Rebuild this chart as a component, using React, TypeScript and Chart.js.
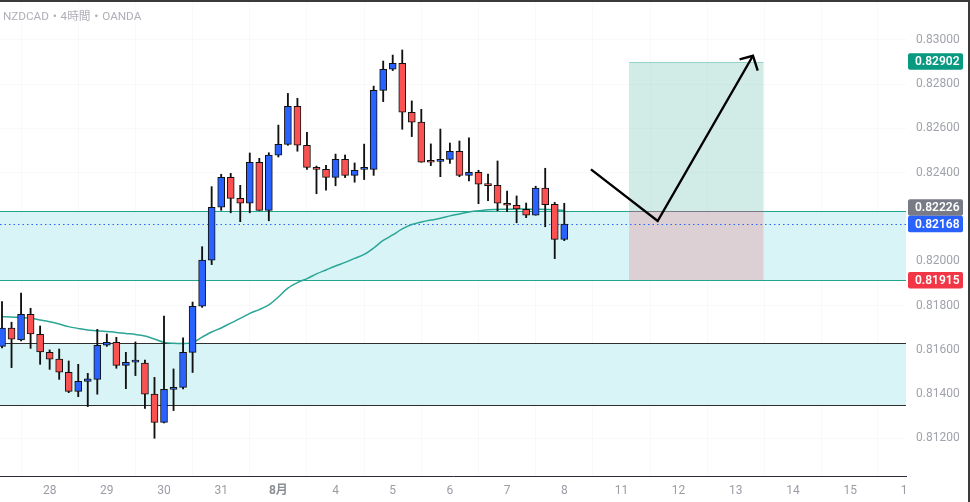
import { useEffect, useRef } from "react";
import { Chart, registerables } from "chart.js";

Chart.register(...registerables);

const TITLE = "NZDCAD・4時間・OANDA";
const FONT = "Roboto, 'Noto Sans CJK JP', sans-serif";

// 4H candles, index 0 .. 59 (Jul 25 → Aug 8)
const OPEN = [
  0.81616, 0.81698, 0.81645, 0.81761, 0.8167, 0.81589, 0.81558, 0.81499, 0.81413, 0.81458,
  0.81467, 0.81621, 0.81634, 0.8153, 0.81545, 0.8154, 0.814, 0.81273, 0.81422, 0.81431,
  0.81589, 0.81797, 0.82005, 0.82244, 0.82379, 0.82284, 0.82262, 0.82447, 0.8223, 0.82479,
  0.82528, 0.827, 0.82524, 0.82424, 0.82415, 0.82379, 0.8246, 0.82388, 0.82415, 0.82415,
  0.82772, 0.82867, 0.82894, 0.82673, 0.82628, 0.82451, 0.82451, 0.8246, 0.82497, 0.82388,
  0.82402, 0.82347, 0.82343, 0.82262, 0.82253, 0.82235, 0.82208, 0.8233, 0.82257, 0.82099,
];
const HIGH = [
  0.81818, 0.81725, 0.81856, 0.81788, 0.81708, 0.816, 0.81604, 0.8155, 0.81535, 0.81494,
  0.81693, 0.81672, 0.81657, 0.81589, 0.81636, 0.81554, 0.81476, 0.81753, 0.81514, 0.81654,
  0.81816, 0.82066, 0.82337, 0.82393, 0.82397, 0.82343, 0.82489, 0.82465, 0.8249, 0.82615,
  0.82758, 0.82736, 0.82582, 0.8243, 0.82433, 0.82484, 0.8248, 0.82444, 0.82529, 0.82791,
  0.82904, 0.82931, 0.82954, 0.82724, 0.82686, 0.8253, 0.82597, 0.82534, 0.82543, 0.82557,
  0.82411, 0.82394, 0.82453, 0.82317, 0.82295, 0.82263, 0.82339, 0.8242, 0.82266, 0.82262,
];
const LOW = [
  0.81609, 0.8152, 0.8164, 0.81607, 0.81535, 0.81512, 0.81467, 0.81407, 0.81389, 0.81344,
  0.814, 0.81616, 0.81517, 0.81425, 0.81484, 0.81336, 0.81201, 0.8127, 0.81326, 0.81424,
  0.81498, 0.81792, 0.81985, 0.8223, 0.82219, 0.82179, 0.82219, 0.8223, 0.82183, 0.82471,
  0.82524, 0.82497, 0.82415, 0.82305, 0.82321, 0.82341, 0.82378, 0.82357, 0.82369, 0.82388,
  0.82721, 0.82861, 0.82596, 0.82563, 0.82447, 0.82432, 0.82382, 0.82442, 0.82382, 0.82363,
  0.8226, 0.82274, 0.82228, 0.82224, 0.82174, 0.82197, 0.82208, 0.82156, 0.82012, 0.82093,
];
const CLOSE = [
  0.81698, 0.81648, 0.81761, 0.81672, 0.81591, 0.81558, 0.81499, 0.81413, 0.81458, 0.81469,
  0.81621, 0.81634, 0.8153, 0.81544, 0.81546, 0.814, 0.81273, 0.81422, 0.81431, 0.81589,
  0.81797, 0.82005, 0.82244, 0.82379, 0.82284, 0.82262, 0.82447, 0.8223, 0.82479, 0.82528,
  0.827, 0.82524, 0.82424, 0.82415, 0.82379, 0.8246, 0.82388, 0.82411, 0.82416, 0.82772,
  0.82867, 0.82894, 0.82673, 0.82628, 0.82447, 0.82447, 0.8246, 0.82497, 0.82388, 0.82402,
  0.82348, 0.82342, 0.82262, 0.82253, 0.82237, 0.82208, 0.8233, 0.82256, 0.82099, 0.82168,
];
// moving average line
const MA = [
  0.8175, 0.81749, 0.81746, 0.81744, 0.81735, 0.81727, 0.81717, 0.81705, 0.81697, 0.8169,
  0.81687, 0.81683, 0.81679, 0.81674, 0.8167, 0.81663, 0.81649, 0.81634, 0.8163, 0.81629,
  0.81633, 0.81658, 0.81681, 0.81699, 0.81721, 0.81742, 0.81765, 0.81782, 0.81803, 0.81839,
  0.81879, 0.81904, 0.81922, 0.81943, 0.81961, 0.81979, 0.81995, 0.82013, 0.82031, 0.8206,
  0.82094, 0.82119, 0.82146, 0.82166, 0.82177, 0.82186, 0.82194, 0.82205, 0.82214, 0.82223,
  0.82228, 0.82233, 0.82234, 0.82235, 0.82236, 0.82236, 0.82235, 0.82234, 0.82233, 0.82229,
];

const DAY_TICKS = [5, 11, 17, 23, 29, 35, 41, 47, 53, 59, 65, 71, 77, 83, 89, 94.65];
const DAY_LABELS = ["28", "29", "30", "31", "8月", "4", "5", "6", "7", "8", "11", "12", "13", "14", "15", "1"];
const MONTH_TICK = 29;
const Y_TICKS = [0.812, 0.814, 0.816, 0.818, 0.82, 0.822, 0.824, 0.826, 0.828, 0.83];
const HIDDEN_Y_TICK = 0.822;

const X_MIN = -0.21;
const X_MAX = 94.86;
const Y_MIN = 0.810307;
const Y_MAX = 0.8317065;

const UPPER_ZONE = [0.81915, 0.82226];
const LOWER_ZONE = [0.8135, 0.8163];
const LAST_PRICE = 0.82168;
const TARGET = 0.82902;
const ENTRY = 0.82226;
const STOP = 0.81915;
const POSITION_X = [65.8, 79.9];
const ARROW_X = [61.8, 68.8, 78.8];
const ARROW_Y = [0.82415, 0.82182, 0.82928];
const ARROW_HEAD_X = [77.4, 79.3];
const ARROW_HEAD_Y = [0.82912, 0.82861];

const PRICE_TAGS = [
  { value: TARGET, color: "#089981" },
  { value: ENTRY, color: "#787b86" },
  { value: LAST_PRICE, color: "#2962ff" },
  { value: STOP, color: "#f23645" },
];

const UP = "#2962ff";
const DOWN = "#fa5252";
const ZONE_FILL = "#d8f4f6";
const TEAL = "#22a58e";

const overlayPlugin = {
  id: "overlay",
  beforeDatasetsDraw(chart: any) {
    const { ctx, chartArea: a, scales } = chart;
    const x = scales.x;
    const y = scales.y;
    const W = a.right - a.left;
    ctx.save();
    ctx.beginPath();
    ctx.rect(a.left, a.top, W, a.bottom - a.top);
    ctx.clip();

    const drawZone = (z: number[], lineColor: string) => {
      const y1 = Math.round(y.getPixelForValue(z[1]));
      const y0 = Math.round(y.getPixelForValue(z[0]));
      ctx.fillStyle = ZONE_FILL;
      ctx.fillRect(a.left, y1, W, y0 - y1);
      ctx.strokeStyle = lineColor;
      ctx.lineWidth = 1;
      ctx.beginPath();
      ctx.moveTo(a.left, y1 + 0.5);
      ctx.lineTo(a.right, y1 + 0.5);
      ctx.moveTo(a.left, y0 + 0.5);
      ctx.lineTo(a.right, y0 + 0.5);
      ctx.stroke();
    };
    drawZone(LOWER_ZONE, "#2e2e2e");
    drawZone(UPPER_ZONE, TEAL);

    const px0 = x.getPixelForValue(POSITION_X[0]);
    const px1 = x.getPixelForValue(POSITION_X[1]);
    const yT = Math.round(y.getPixelForValue(TARGET));
    const yE = Math.round(y.getPixelForValue(ENTRY));
    const yS = Math.round(y.getPixelForValue(STOP));
    ctx.fillStyle = "rgba(8,153,129,0.19)";
    ctx.fillRect(px0, yT, px1 - px0, yE - yT);
    ctx.fillStyle = "rgba(242,54,69,0.19)";
    ctx.fillRect(px0, yE, px1 - px0, yS - yE);
    ctx.strokeStyle = "rgba(8,153,129,0.3)";
    ctx.beginPath();
    ctx.moveTo(px0, yT + 0.5);
    ctx.lineTo(px1, yT + 0.5);
    ctx.stroke();
    ctx.strokeStyle = "#787b86";
    ctx.beginPath();
    ctx.moveTo(px0, yE + 0.5);
    ctx.lineTo(px1, yE + 0.5);
    ctx.stroke();

    const yL = Math.round(y.getPixelForValue(LAST_PRICE)) + 0.5;
    ctx.strokeStyle = "#2962ff";
    ctx.setLineDash([1.5, 3]);
    ctx.beginPath();
    ctx.moveTo(a.left, yL);
    ctx.lineTo(a.right, yL);
    ctx.stroke();
    ctx.setLineDash([]);
    ctx.restore();
  },
  afterDatasetsDraw(chart: any) {
    const { ctx, scales } = chart;
    const x = scales.x;
    const y = scales.y;
    ctx.save();
    ctx.strokeStyle = "#000";
    ctx.lineWidth = 2.4;
    ctx.lineJoin = "miter";
    ctx.lineCap = "butt";
    ctx.beginPath();
    ARROW_X.forEach((v, i) => {
      const px = x.getPixelForValue(v);
      const py = y.getPixelForValue(ARROW_Y[i]);
      if (i === 0) ctx.moveTo(px, py);
      else ctx.lineTo(px, py);
    });
    ctx.stroke();
    const tx = x.getPixelForValue(ARROW_X[2]);
    const ty = y.getPixelForValue(ARROW_Y[2]);
    ctx.beginPath();
    ctx.moveTo(x.getPixelForValue(ARROW_HEAD_X[0]), y.getPixelForValue(ARROW_HEAD_Y[0]));
    ctx.lineTo(tx, ty);
    ctx.lineTo(x.getPixelForValue(ARROW_HEAD_X[1]), y.getPixelForValue(ARROW_HEAD_Y[1]));
    ctx.stroke();
    ctx.restore();
  },
  afterDraw(chart: any) {
    const { ctx, chartArea: a, scales, width, height } = chart;
    const y = scales.y;
    ctx.save();
    const H = 16.5;
    const tags = PRICE_TAGS.map((t) => ({ ...t, cy: y.getPixelForValue(t.value) })).sort(
      (p, q) => p.cy - q.cy
    );
    for (let j = tags.length - 2; j >= 0; j--) {
      if (tags[j].cy > tags[j + 1].cy - H) tags[j].cy = tags[j + 1].cy - H;
    }
    ctx.font = `600 12px ${FONT}`;
    ctx.textBaseline = "middle";
    ctx.textAlign = "left";
    for (const t of tags) {
      const bx = a.right + 2;
      const bw = 55;
      const by = t.cy - H / 2;
      ctx.fillStyle = t.color;
      ctx.beginPath();
      (ctx as any).roundRect(bx, by, bw, H, 2);
      ctx.fill();
      ctx.fillStyle = "#ffffff";
      ctx.fillText(t.value.toFixed(5), a.right + 9, t.cy + 0.5);
    }
    ctx.font = `11.7px ${FONT}`;
    ctx.fillStyle = "#aeb0b6";
    ctx.fillText(TITLE, 3, 17);
    ctx.fillStyle = "#3a3a3a";
    ctx.fillRect(0, 0, width, 2);
    ctx.fillRect(width - 2, 0, 2, height);
    ctx.restore();
  },
};

export default function App() {
  const ref = useRef<HTMLCanvasElement | null>(null);
  useEffect(() => {
    document.body.style.margin = "0";
    const canvas = ref.current;
    if (!canvas) return;
    const idx = OPEN.map((_, i) => i);
    const colors = idx.map((i) => (CLOSE[i] >= OPEN[i] ? UP : DOWN));
    const chart = new Chart(canvas, {
      type: "bar",
      data: {
        datasets: [
          {
            type: "line",
            data: idx.map((i) => ({ x: i, y: MA[i] })),
            borderColor: "#2aa596",
            borderWidth: 1.5,
            pointRadius: 0,
            tension: 0.3,
            order: 3,
          } as any,
          {
            data: idx.map((i) => ({ x: i, y: [LOW[i], HIGH[i]] })),
            backgroundColor: "#111111",
            borderWidth: 0,
            barThickness: 1.2,
            grouped: false,
            order: 2,
          } as any,
          {
            data: idx.map((i) => ({ x: i, y: [OPEN[i], CLOSE[i]] })),
            backgroundColor: colors,
            borderColor: "#111111",
            borderWidth: 1,
            borderSkipped: false,
            barThickness: 7,
            minBarLength: 2,
            grouped: false,
            order: 1,
          } as any,
        ],
      },
      options: {
        animation: false,
        responsive: true,
        maintainAspectRatio: false,
        layout: { padding: { top: 2, left: 0, right: 0, bottom: 0 } },
        plugins: { legend: { display: false }, tooltip: { enabled: false } },
        scales: {
          x: {
            type: "linear",
            offset: false,
            min: X_MIN,
            max: X_MAX,
            afterBuildTicks: (s: any) => {
              s.ticks = DAY_TICKS.map((v) => ({ value: v }));
            },
            afterFit: (s: any) => {
              s.height = 26;
              s.paddingLeft = 0;
              s.paddingRight = 0;
            },
            grid: { color: "rgba(0,0,0,0.025)", drawTicks: false },
            border: { display: true, color: "#2a2e39", width: 1 },
            ticks: {
              padding: 8,
              autoSkip: false,
              maxRotation: 0,
              callback: (v: any) => {
                const k = DAY_TICKS.indexOf(Number(v));
                return k >= 0 ? DAY_LABELS[k] : "";
              },
              color: (c: any) => (c.tick && c.tick.value === MONTH_TICK ? "#8a8d94" : "#9a9da5"),
              font: (c: any) =>
                c.tick && c.tick.value === MONTH_TICK
                  ? { family: FONT, size: 12, weight: "bold" }
                  : { family: FONT, size: 12 },
            },
          },
          y: {
            type: "linear",
            position: "right",
            min: Y_MIN,
            max: Y_MAX,
            afterBuildTicks: (s: any) => {
              s.ticks = Y_TICKS.map((v) => ({ value: v }));
            },
            afterFit: (s: any) => {
              s.width = 64;
              s.paddingTop = 0;
              s.paddingBottom = 0;
            },
            grid: { color: "rgba(0,0,0,0.025)", drawTicks: false },
            border: { display: false },
            ticks: {
              padding: 10,
              color: "#a0a3ab",
              font: { family: FONT, size: 12 },
              callback: (v: any) =>
                Math.abs(Number(v) - HIDDEN_Y_TICK) < 1e-7 ? "" : Number(v).toFixed(5),
            },
          },
        },
      },
      plugins: [overlayPlugin],
    });
    return () => chart.destroy();
  }, []);
  return (
    <div style={{ width: 970, height: 502, position: "relative", background: "#fff" }}>
      <canvas ref={ref} />
    </div>
  );
}
